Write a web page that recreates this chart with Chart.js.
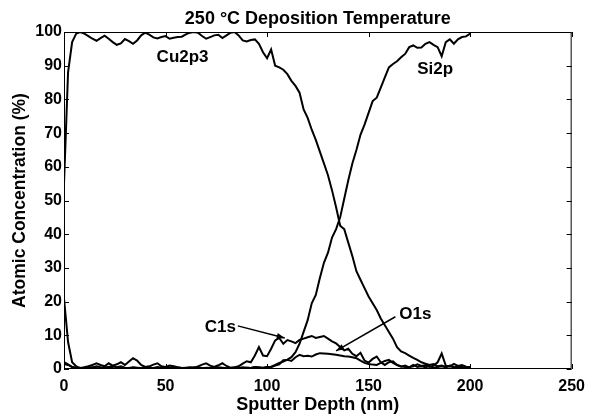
<!DOCTYPE html>
<html>
<head>
<meta charset="utf-8">
<script src="https://cdn.jsdelivr.net/npm/chart.js@4"></script>
<style>
  html, body { margin: 0; padding: 0; background: #fff; }
  canvas { display: block; }
</style>
</head>
<body>
<canvas id="chart" width="593" height="418"></canvas>
<script>
/** DATA **/
const depth = [
  0, 2, 4, 6, 8, 10, 12, 14, 16, 18, 20, 22, 24, 26, 28, 30, 32, 34, 36, 38,
  40, 42, 44, 46, 48, 50, 52, 54, 56, 58, 60, 62, 64, 66, 68, 70, 72, 74, 76, 78,
  80, 82, 84, 86, 88, 90, 92, 94, 96, 98, 100, 102, 104, 106, 108, 110, 112, 114, 116, 118,
  120, 122, 124, 126, 128, 130, 132, 134, 136, 138, 140, 142, 144, 146, 148, 150, 152, 154, 156, 158,
  160, 162, 164, 166, 168, 170, 172, 174, 176, 178, 180, 182, 184, 186, 188, 190, 192, 194, 196, 198, 200
];

const cu2p3 = [
  55, 88, 97, 99.5, 100, 99.5, 98.8, 98, 97.4, 98.2, 98.9, 98, 97, 96.2, 96.6, 97.9, 97.3, 96.5, 97.5, 99,
  99.8, 99.2, 98.4, 98.1, 98.5, 98.8, 98, 98.3, 98.5, 98.6, 99.3, 99.8, 100, 99.8, 98.8, 98, 98.5, 99, 99.2, 98.2,
  99, 99.8, 100, 99, 97.5, 97.2, 97.6, 97.8, 96.5, 94, 92.2, 94.8, 90, 89.5, 88.8, 87.5, 85.5, 84, 82, 77,
  74.5, 71, 68, 64.5, 61, 57.5, 53, 48, 42.5, 41.5, 37.5, 33.5, 29, 26.5, 24, 21.5, 19.5, 17.5, 15, 13,
  11, 9, 6.5, 5.2, 4.7, 4, 3.3, 2.7, 2, 1.6, 1.2, 1.5, 0.8, 1, 0.6, 0.8, 0.5, 0.7, 0.4, 0.6, 0.5
];

const si2p = [
  2, 1.4, 0.6, 0.3, 0.2, 0.4, 0.3, 0.5, 0.3, 0.2, 0.4, 0.6, 0.3, 0.2, 0.5, 0.3, 0.2, 0.4, 0.3, 0.2,
  0.3, 0.5, 0.2, 0.3, 0.4, 0.2, 0.3, 0.2, 0.4, 0.3, 0.2, 0.3, 0.5, 0.3, 0.2, 0.4, 0.3, 0.2, 0.3, 0.4,
  0.2, 0.3, 0.4, 0.3, 0.2, 0.4, 0.3, 0.5, 0.4, 0.3, 0.5, 0.7, 1.2, 1.8, 2.2, 2.8, 3.5, 5, 7.5, 11,
  14.5, 19.5, 22, 27, 31.5, 34.5, 39, 41.5, 45, 50.5, 56, 61, 65, 69.5, 72.5, 76, 79.5, 80.5, 83.5, 86.5,
  89.5, 90.5, 91.3, 92.5, 93.5, 95.5, 96, 95.3, 95.4, 96.5, 97, 96.2, 95.5, 92.8, 97, 97.8, 96.5, 97.8, 98.5, 98.7, 99.5
];

const c1s = [
  21, 8, 2, 0.8, 0.3, 0.5, 0.8, 1.2, 1.7, 1.2, 0.8, 1.7, 1, 1.4, 2, 1.2, 2.2, 3.2, 2.5, 1.2,
  0.6, 0.8, 1.3, 1.7, 0.8, 0.6, 1, 0.8, 0.5, 0.3, 0.4, 0.5, 0.3, 0.8, 1.3, 1.7, 1, 0.6, 1.1, 1.7,
  0.9, 0.4, 0.5, 0.8, 1.6, 2.3, 2, 4, 6.5, 4, 3.8, 6, 8.5, 9.2, 7.5, 8.6, 8.2, 7.7, 8.6, 9,
  9.4, 9.8, 9.2, 9.5, 9.8, 9, 8.2, 7.6, 6.5, 5.5, 6, 4.5, 3.8, 4.8, 2.5, 1.9, 3, 3.7, 2, 1.2,
  2, 2.3, 1.2, 0.7, 1, 0.5, 0.8, 1.4, 0.9, 1.2, 0.6, 1, 2, 4.6, 1, 0.8, 1.5, 0.9, 1.2, 0.7, 0.6
];

const o1s = [
  1.5, 1.2, 0.6, 0.3, 0.2, 0.3, 0.5, 0.4, 0.8, 0.5, 0.3, 0.6, 0.9, 0.5, 0.8, 0.4, 0.3, 0.5, 0.4, 0.3,
  0.5, 0.4, 0.3, 0.6, 0.4, 0.3, 0.5, 0.3, 0.4, 0.3, 0.2, 0.4, 0.3, 0.5, 0.3, 0.2, 0.4, 0.3, 0.5, 0.3,
  0.2, 0.3, 0.4, 0.3, 0.5, 0.4, 0.3, 0.6, 0.5, 0.4, 0.6, 0.5, 1, 1.4, 2.6, 2.7, 2.4, 3.5, 4.2, 3.8,
  3.9, 3.7, 4.3, 4.7, 4.6, 4.5, 4.4, 4.2, 4, 3.8, 3.7, 3.5, 3.2, 2.5, 1.8, 1.5, 1.3, 1.2, 1.8, 2.4,
  2.7, 1.8, 1.2, 0.8, 0.6, 0.5, 1.2, 0.6, 0.8, 0.5, 0.9, 0.4, 0.6, 0.8, 0.5, 1, 0.6, 0.4, 0.7, 0.5, 0.3
];

const xTicks = [0, 50, 100, 150, 200, 250];
const yTicks = [0, 10, 20, 30, 40, 50, 60, 70, 80, 90, 100];

// text labels in data units; arrows point from [x1,y1] to [x2,y2]
const labels = [
  { text: 'Cu2p3', x: 58.4, y: 92.7 },
  { text: 'Si2p', x: 182.8, y: 89.3 },
  { text: 'C1s', x: 77, y: 12.8 },
  { text: 'O1s', x: 173, y: 16.4 }
];
const arrows = [
  { x1: 85.6, y1: 12.8, x2: 108.7, y2: 9.2 },
  { x1: 163.2, y1: 15.5, x2: 134, y2: 5.4 }
];

/** CHART **/
Chart.defaults.font.family = "'Liberation Sans', Arial, sans-serif";
Chart.defaults.color = '#000';

const series = [['Cu2p3', cu2p3], ['Si2p', si2p], ['C1s', c1s], ['O1s', o1s]];

// frame, inward ticks, labels and arrows
const decorations = {
  id: 'decorations',
  afterDatasetsDraw(chart) {
    const { ctx, chartArea: a, scales: { x, y } } = chart;
    ctx.save();
    ctx.strokeStyle = '#000';
    ctx.lineWidth = 1;
    ctx.strokeRect(a.left + 0.5, a.top + 0.5, a.width - 1, a.height - 1);

    const tl = 5;
    ctx.beginPath();
    xTicks.forEach(v => {
      const px = Math.round(x.getPixelForValue(v)) + 0.5;
      ctx.moveTo(px, a.bottom); ctx.lineTo(px, a.bottom - tl);
      ctx.moveTo(px, a.top); ctx.lineTo(px, a.top + tl);
    });
    yTicks.forEach(v => {
      const py = Math.round(y.getPixelForValue(v)) + 0.5;
      ctx.moveTo(a.left, py); ctx.lineTo(a.left + tl, py);
      ctx.moveTo(a.right, py); ctx.lineTo(a.right - tl, py);
    });
    ctx.stroke();

    ctx.fillStyle = '#000';
    ctx.font = "bold 17px 'Liberation Sans', Arial, sans-serif";
    ctx.textAlign = 'center';
    ctx.textBaseline = 'middle';
    labels.forEach(l => ctx.fillText(l.text, x.getPixelForValue(l.x), y.getPixelForValue(l.y) + 1));

    arrows.forEach(ar => {
      const x1 = x.getPixelForValue(ar.x1), y1 = y.getPixelForValue(ar.y1);
      const x2 = x.getPixelForValue(ar.x2), y2 = y.getPixelForValue(ar.y2);
      const ang = Math.atan2(y2 - y1, x2 - x1);
      ctx.beginPath();
      ctx.moveTo(x1, y1); ctx.lineTo(x2, y2);
      ctx.lineWidth = 1.5;
      ctx.stroke();
      ctx.beginPath();
      ctx.moveTo(x2, y2);
      ctx.lineTo(x2 - 8 * Math.cos(ang) + 3 * Math.sin(ang), y2 - 8 * Math.sin(ang) - 3 * Math.cos(ang));
      ctx.lineTo(x2 - 8 * Math.cos(ang) - 3 * Math.sin(ang), y2 - 8 * Math.sin(ang) + 3 * Math.cos(ang));
      ctx.closePath();
      ctx.fill();
    });
    ctx.restore();
  }
};

new Chart(document.getElementById('chart'), {
  type: 'line',
  data: {
    datasets: series.map(([name, vals]) => ({
      label: name,
      data: depth.map((d, i) => ({ x: d, y: vals[i] })),
      borderColor: '#000',
      borderWidth: 2,
      pointRadius: 0,
      tension: 0,
      fill: false
    }))
  },
  options: {
    responsive: false,
    animation: false,
    devicePixelRatio: 1,
    layout: { padding: { left: 0, right: 17, top: 0, bottom: 0 } },
    plugins: {
      legend: { display: false },
      tooltip: { enabled: false },
      title: {
        display: true,
        fullSize: false,
        text: '250 °C Deposition Temperature',
        font: { size: 18, weight: 'bold' },
        padding: { top: 8, bottom: 2.4 }
      }
    },
    scales: {
      x: {
        type: 'linear',
        min: 0, max: 250,
        grid: { display: false, drawTicks: false },
        border: { display: false },
        afterBuildTicks: s => { s.ticks = xTicks.map(v => ({ value: v })); },
        afterFit: s => { s.height = 49; },
        ticks: { font: { size: 16, weight: 'bold' }, padding: 8, maxRotation: 0 },
        title: {
          display: true,
          text: 'Sputter Depth (nm)',
          font: { size: 18, weight: 'bold' },
          padding: { top: 0, bottom: 2 }
        }
      },
      y: {
        min: 0, max: 100,
        grid: { display: false, drawTicks: false },
        border: { display: false },
        afterBuildTicks: s => { s.ticks = yTicks.map(v => ({ value: v })); },
        afterFit: s => { s.width = 64; },
        ticks: { font: { size: 16, weight: 'bold' }, padding: 2 },
        title: {
          display: true,
          text: 'Atomic Concentration (%)',
          font: { size: 17.5, weight: 'bold' },
          padding: { top: 10, bottom: 0 }
        }
      }
    }
  },
  plugins: [decorations]
});
</script>
</body>
</html>
